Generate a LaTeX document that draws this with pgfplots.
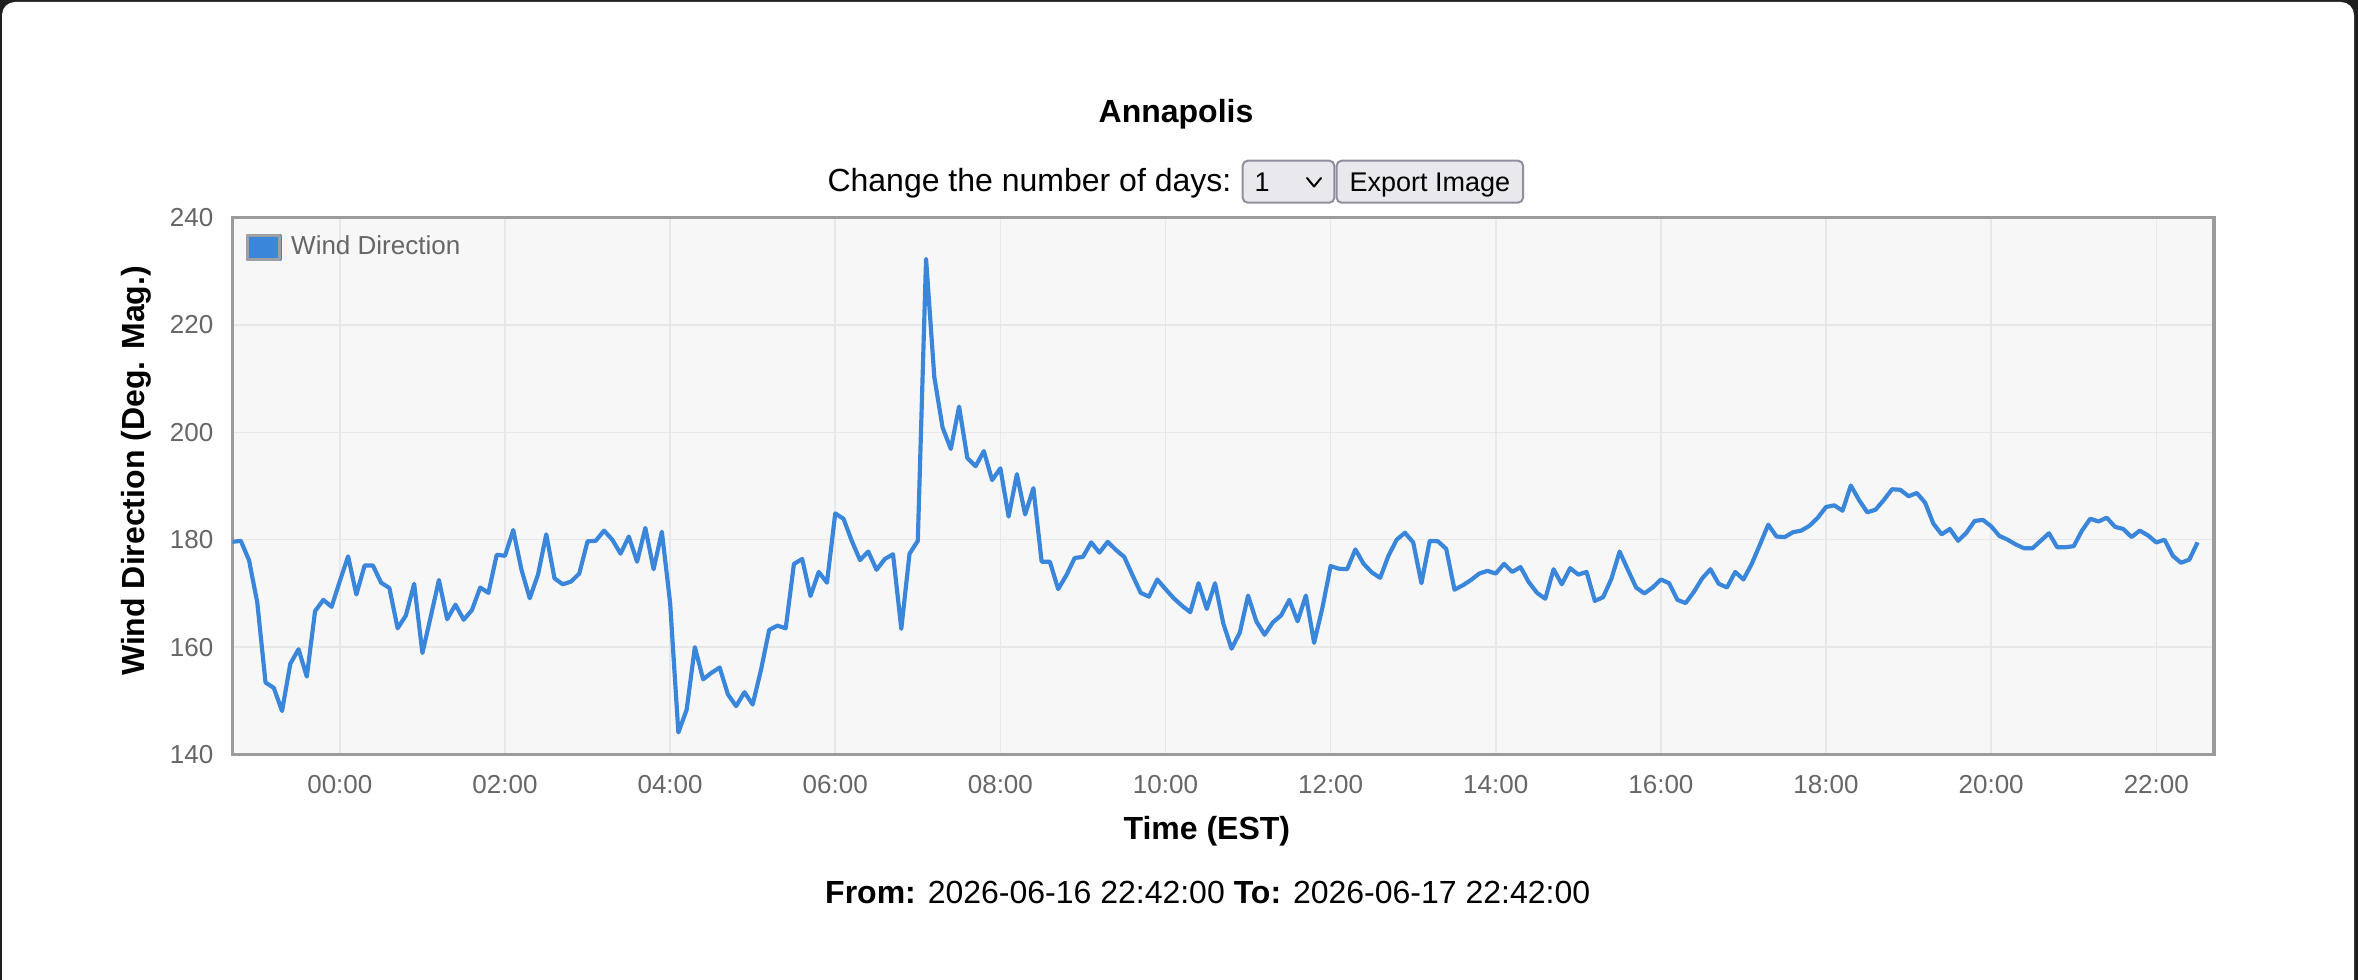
\documentclass[border=0pt]{standalone}
\usepackage{fontspec}
\setmainfont{Liberation Sans}
\usepackage{pgfplots}
\pgfplotsset{compat=1.18}
\usepackage{pgfplotstable}
\definecolor{darkframe}{HTML}{1F1F1F}
\definecolor{plotbg}{HTML}{F7F7F7}
\definecolor{gridgray}{HTML}{E8E8E8}
\definecolor{framegray}{HTML}{9B9B9B}
\definecolor{legborder}{HTML}{A0A0A0}
\definecolor{wdblue}{HTML}{3A86DB}
\definecolor{tickgray}{HTML}{666666}
\definecolor{btnfill}{HTML}{E9E9ED}
\definecolor{btnborder}{HTML}{8F8F9D}
\newcommand\tickfont{\fontsize{7.8bp}{9bp}\selectfont}
\newcommand\bigfont{\fontsize{9.6bp}{11bp}\selectfont}
\newcommand\btnfont{\fontsize{8.1bp}{9.5bp}\selectfont}

\pgfplotstableread{
t dir
-1.3 179.6
-1.2 179.8
-1.1 176.2
-1.0 168.3
-0.9 153.4
-0.8 152.4
-0.7 148.1
-0.6 156.9
-0.5 159.6
-0.4 154.5
-0.3 166.7
-0.2 168.8
-0.1 167.5
0.0 172.3
0.1 176.9
0.2 169.8
0.3 175.2
0.4 175.2
0.5 172.0
0.6 171.0
0.7 163.5
0.8 165.9
0.9 171.8
1.0 158.9
1.1 165.6
1.2 172.5
1.3 165.2
1.4 167.9
1.5 165.1
1.6 166.9
1.7 171.1
1.8 170.1
1.9 177.2
2.0 177.0
2.1 181.8
2.2 174.4
2.3 169.1
2.4 173.5
2.5 181.0
2.6 172.8
2.7 171.7
2.8 172.2
2.9 173.7
3.0 179.7
3.1 179.8
3.2 181.7
3.3 180.0
3.4 177.4
3.5 180.6
3.6 175.9
3.7 182.2
3.8 174.5
3.9 181.5
4.0 168.3
4.1 144.1
4.2 148.3
4.3 160.0
4.4 154.0
4.5 155.2
4.6 156.2
4.7 151.2
4.8 149.0
4.9 151.6
5.0 149.3
5.1 155.7
5.2 163.2
5.3 164.0
5.4 163.5
5.5 175.5
5.6 176.4
5.7 169.5
5.8 174.0
5.9 172.0
6.0 184.9
6.1 183.9
6.2 179.8
6.3 176.2
6.4 177.8
6.5 174.4
6.6 176.4
6.7 177.3
6.8 163.4
6.9 177.4
7.0 179.8
7.1 232.3
7.2 210.3
7.3 200.9
7.4 196.9
7.5 204.8
7.6 195.2
7.7 193.7
7.8 196.5
7.9 191.1
8.0 193.3
8.1 184.3
8.2 192.2
8.3 184.7
8.4 189.6
8.5 175.9
8.6 175.9
8.7 170.8
8.8 173.4
8.9 176.6
9.0 176.8
9.1 179.5
9.2 177.6
9.3 179.6
9.4 178.1
9.5 176.8
9.6 173.4
9.7 170.1
9.8 169.4
9.9 172.6
10.0 170.8
10.1 169.1
10.2 167.7
10.3 166.5
10.4 171.9
10.5 167.1
10.6 171.9
10.7 164.4
10.8 159.7
10.9 162.7
11.0 169.6
11.1 164.8
11.2 162.3
11.3 164.6
11.4 165.9
11.5 168.8
11.6 164.8
11.7 169.6
11.8 160.8
11.9 167.3
12.0 175.1
12.1 174.6
12.2 174.5
12.3 178.2
12.4 175.5
12.5 173.9
12.6 172.9
12.7 177.0
12.8 180.0
12.9 181.3
13.0 179.5
13.1 171.9
13.2 179.8
13.3 179.7
13.4 178.3
13.5 170.7
13.6 171.5
13.7 172.5
13.8 173.7
13.9 174.2
14.0 173.7
14.1 175.5
14.2 174.0
14.3 174.9
14.4 172.1
14.5 170.1
14.6 169.0
14.7 174.5
14.8 171.7
14.9 174.7
15.0 173.5
15.1 174.0
15.2 168.6
15.3 169.3
15.4 172.7
15.5 177.8
15.6 174.4
15.7 171.1
15.8 170.0
15.9 171.1
16.0 172.6
16.1 171.9
16.2 168.8
16.3 168.2
16.4 170.3
16.5 172.8
16.6 174.5
16.7 171.8
16.8 171.1
16.9 174.0
17.0 172.6
17.1 175.5
17.2 179.1
17.3 182.8
17.4 180.6
17.5 180.5
17.6 181.4
17.7 181.7
17.8 182.6
17.9 184.1
18.0 186.1
18.1 186.4
18.2 185.4
18.3 190.1
18.4 187.4
18.5 185.1
18.6 185.6
18.7 187.4
18.8 189.4
18.9 189.3
19.0 188.1
19.1 188.7
19.2 186.9
19.3 183.0
19.4 181.0
19.5 182.0
19.6 179.8
19.7 181.3
19.8 183.5
19.9 183.7
20.0 182.5
20.1 180.7
20.2 180.0
20.3 179.1
20.4 178.4
20.5 178.4
20.6 179.8
20.7 181.2
20.8 178.6
20.9 178.6
21.0 178.8
21.1 181.7
21.2 183.9
21.3 183.4
21.4 184.1
21.5 182.4
21.6 182.0
21.7 180.5
21.8 181.7
21.9 180.8
22.0 179.5
22.1 180.0
22.2 177.0
22.3 175.7
22.4 176.3
22.5 179.5
}\winddata

\begin{document}
\begin{tikzpicture}
\begin{scope}[x=0.3bp,y=0.3bp]
\useasboundingbox (0,0) rectangle (2358,980);
\fill[darkframe] (0,0) rectangle (2358,980);
\fill[white, rounded corners=3.9bp] (2,-30) rectangle (2354,978);
% header
\node[anchor=base, inner sep=0pt, font=\bigfont\bfseries] at (1176,857.3) {Annapolis};
\node[anchor=base east, inner sep=0pt, font=\bigfont] at (1232,788.3) {Change the number of days:};
\draw[fill=btnfill, draw=btnborder, line width=0.6bp, rounded corners=1.5bp] (1242.7,777.3) rectangle (1334.3,819.3);
\node[anchor=base west, inner sep=0pt, font=\btnfont] at (1254,788.3) {1};
\draw[black, line width=0.6bp, line cap=round, line join=round] (1307,802) -- (1314,793.5) -- (1321,802);
\draw[fill=btnfill, draw=btnborder, line width=0.6bp, rounded corners=1.5bp] (1336.6,777.3) rectangle (1523,819.3);
\node[anchor=base, inner sep=0pt, font=\btnfont] at (1429.8,788.3) {Export Image};
\node[anchor=base, inner sep=0pt, font=\bigfont] at (1207.7,76) {\textbf{From:} 2026-06-16 22:42:00 \textbf{To:} 2026-06-17 22:42:00};
\end{scope}

\begin{axis}[
  at={(69.75bp,67.65bp)}, anchor=south west,
  scale only axis, width=594.45bp, height=161.07bp,
  xmin=-1.3, xmax=22.7, ymin=140, ymax=240,
  enlargelimits=false,
  axis background/.style={fill=plotbg},
  axis line style={draw=framegray, line width=1bp},
  grid=major,
  major grid style={draw=gridgray, line width=0.45bp},
  tick style={draw=none},
  major tick length=0pt,
  xtick={0,2,...,22},
  xticklabels={00:00,02:00,04:00,06:00,08:00,10:00,12:00,14:00,16:00,18:00,20:00,22:00},
  ytick={140,160,...,240},
  /pgf/number format/assume math mode=true,
  tick label style={font=\tickfont, text=tickgray, inner sep=0pt},
  xticklabel style={anchor=north, yshift=-6.15bp},
  yticklabel style={anchor=east, xshift=-5.55bp},
  xlabel={Time (EST)},
  xlabel style={at={(axis description cs:0.4917,-0.1592)}, anchor=base, inner sep=0pt, font=\bigfont\bfseries},
  ylabel={Wind Direction (Deg. Mag.)},
  ylabel style={at={(axis description cs:-0.0487,0.528)}, anchor=center, inner sep=0pt, font=\bigfont\bfseries},
  legend image code/.code={%
    \fill[fill=wdblue] (0bp,-3.54bp) rectangle (9.6bp,3.54bp);
    \draw[draw=legborder, line width=0.99bp, fill=none] (0bp,-3.54bp) rectangle (9.6bp,3.54bp);},
  legend style={at={(axis description cs:0,1)}, anchor=north west, xshift=3.96bp, yshift=-4.8bp,
    draw=none, fill=none, inner sep=0pt, outer sep=0pt, font=\tickfont, text=tickgray,
    nodes={inner sep=0pt},
    /tikz/every odd column/.append style={column sep=2.8bp}},
  legend cell align=left,
]
\addplot[color=wdblue, line width=1.25bp, line join=round, mark=none] table[x=t, y=dir] {\winddata};
\addlegendentry{Wind Direction}
\end{axis}
\end{tikzpicture}
\end{document}
